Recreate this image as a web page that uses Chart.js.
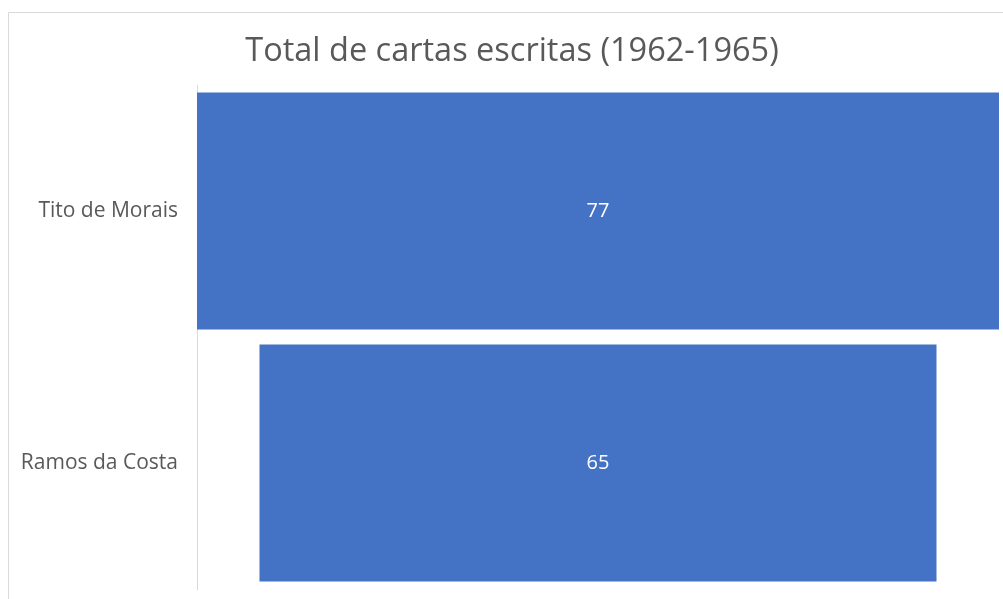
<!DOCTYPE html>
<html>
<head>
<meta charset="utf-8">
<script src="https://cdn.jsdelivr.net/npm/chart.js@4"></script>
<style>
  html, body { margin: 0; padding: 0; background: #fff; }
  #wrap { width: 1003px; height: 599px; position: relative; }
</style>
</head>
<body>
<div id="wrap"><canvas id="chart" width="1003" height="599"></canvas></div>
<script>
// Funnel-style chart data
const CATEGORIES = ['Tito de Morais', 'Ramos da Costa'];
const TOTALS = [77, 65];
const TITLE = 'Total de cartas escritas (1962-1965)';

const FONT = "'Open Sans', 'Noto Sans', sans-serif";
const BAR_COLOR = '#4472c4';
const TEXT_COLOR = '#595959';

const maxTotal = Math.max(...TOTALS);

// frame, title and value labels
const decorations = {
  id: 'decorations',
  beforeDraw(chart) {
    const ctx = chart.ctx;
    ctx.save();
    ctx.strokeStyle = '#d9d9d9';
    ctx.lineWidth = 1;
    ctx.beginPath();
    ctx.moveTo(8.5, 599);
    ctx.lineTo(8.5, 12.5);
    ctx.lineTo(1003, 12.5);
    ctx.stroke();
    ctx.fillStyle = TEXT_COLOR;
    ctx.font = '32.5px ' + FONT;
    ctx.textAlign = 'center';
    ctx.textBaseline = 'alphabetic';
    ctx.fillText(TITLE, 512, 61);
    ctx.restore();
  },
  afterDatasetsDraw(chart) {
    const ctx = chart.ctx;
    const meta = chart.getDatasetMeta(0);
    ctx.save();
    ctx.fillStyle = '#ffffff';
    ctx.font = '20px ' + FONT;
    ctx.textAlign = 'center';
    ctx.textBaseline = 'middle';
    meta.data.forEach((bar, i) => {
      const p = bar.getProps(['x', 'base', 'y'], true);
      ctx.fillText(String(TOTALS[i]), (p.x + p.base) / 2, p.y);
    });
    ctx.restore();
  }
};

new Chart(document.getElementById('chart').getContext('2d'), {
  type: 'bar',
  data: {
    labels: CATEGORIES,
    datasets: [{
      data: TOTALS.map(v => [-v / 2, v / 2]),
      backgroundColor: BAR_COLOR,
      borderWidth: 0,
      categoryPercentage: 1,
      barPercentage: 0.94,
    }]
  },
  options: {
    indexAxis: 'y',
    responsive: false,
    animation: false,
    layout: { padding: { top: 85, right: 4, bottom: 10, left: 0 } },
    plugins: { legend: { display: false }, tooltip: { enabled: false }, title: { display: false } },
    scales: {
      x: { display: false, min: -maxTotal / 2, max: maxTotal / 2 },
      y: {
        grid: { display: false },
        border: { display: true, color: '#d9d9d9', width: 1 },
        ticks: { color: TEXT_COLOR, font: { family: FONT, size: 21 }, padding: 11 },
        afterFit(scale) {
          scale.width = 197;
          scale.paddingTop = 0;
          scale.paddingBottom = 0;
        }
      }
    }
  },
  plugins: [decorations]
});
</script>
</body>
</html>
